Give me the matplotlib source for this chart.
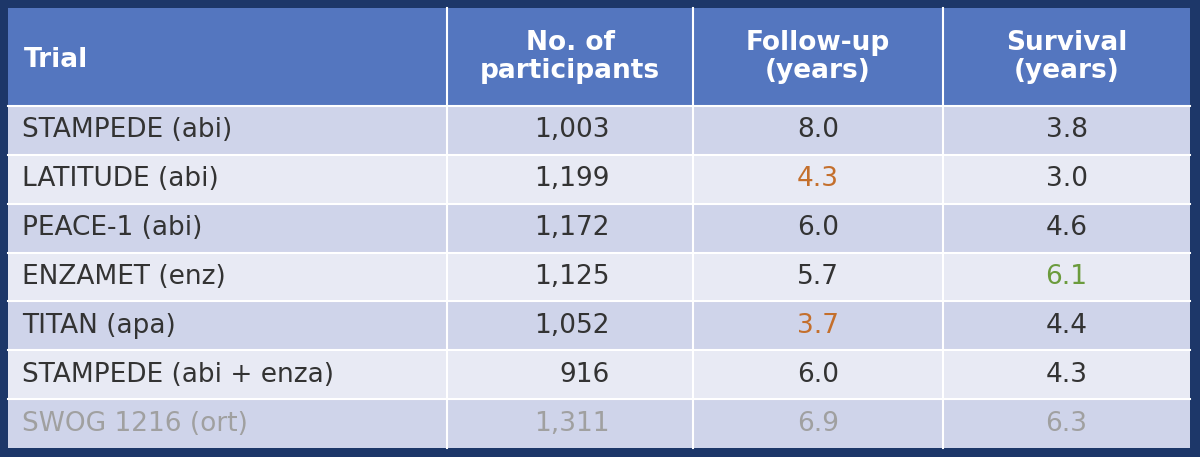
import matplotlib.pyplot as plt
from matplotlib.patches import Rectangle

# Данные таблицы
header = ["Trial", "No. of\nparticipants", "Follow-up\n(years)", "Survival\n(years)"]
trials = ["STAMPEDE (abi)", "LATITUDE (abi)", "PEACE-1 (abi)", "ENZAMET (enz)",
          "TITAN (apa)", "STAMPEDE (abi + enza)", "SWOG 1216 (ort)"]
participants = ["1,003", "1,199", "1,172", "1,125", "1,052", "916", "1,311"]
follow_up = ["8.0", "4.3", "6.0", "5.7", "3.7", "6.0", "6.9"]
survival = ["3.8", "3.0", "4.6", "6.1", "4.4", "4.3", "6.3"]

dark = "#333333"
orange = "#c46f2c"
green = "#6b9b3d"
grey = "#a0a0a0"
follow_colors = [dark, orange, dark, dark, orange, dark, grey]
surv_colors = [dark, dark, dark, green, dark, dark, grey]

W, H = 1200, 457
fig = plt.figure(figsize=(12, 4.57), dpi=100)
fig.patch.set_facecolor("#1d3769")
ax = fig.add_axes([0, 0, 1, 1])
ax.set_xlim(0, W)
ax.set_ylim(H, 0)
ax.axis("off")

cols = [8, 447, 693, 943, 1190]
top, head_bot, bottom = 8, 106, 448
row_h = (bottom - head_bot) / len(trials)

ax.add_patch(Rectangle((cols[0], top), cols[-1] - cols[0], head_bot - top,
                       facecolor="#5476bf", edgecolor="none"))
for i in range(len(trials)):
    y0 = head_bot + i * row_h
    fc = "#cfd4ea" if i % 2 == 0 else "#e8eaf4"
    ax.add_patch(Rectangle((cols[0], y0), cols[-1] - cols[0], row_h,
                           facecolor=fc, edgecolor="none"))
    ax.plot([cols[0], cols[-1]], [y0, y0], color="white", lw=1.5)
for x in cols[1:-1]:
    ax.plot([x, x], [top, bottom], color="white", lw=1.5)

fs = 19
ax.text(24, (top + head_bot) / 2 + 3, header[0], color="white", fontsize=fs,
        fontweight="bold", va="center", ha="left")
centers = [(cols[j] + cols[j + 1]) / 2 for j in range(1, 4)]
for c, t in zip(centers, header[1:]):
    ax.text(c, (top + head_bot) / 2, t, color="white", fontsize=fs,
            fontweight="bold", va="center", ha="center", linespacing=1.15)

for i in range(len(trials)):
    yc = head_bot + (i + 0.5) * row_h
    tc = grey if i == len(trials) - 1 else dark
    ax.text(22, yc, trials[i], color=tc, fontsize=fs, va="center", ha="left")
    ax.text(610, yc, participants[i], color=tc, fontsize=fs, va="center", ha="right")
    ax.text(centers[1], yc, follow_up[i], color=follow_colors[i], fontsize=fs,
            va="center", ha="center")
    ax.text(centers[2], yc, survival[i], color=surv_colors[i], fontsize=fs,
            va="center", ha="center")

fig.savefig("out.png", dpi=100, facecolor=fig.get_facecolor())
